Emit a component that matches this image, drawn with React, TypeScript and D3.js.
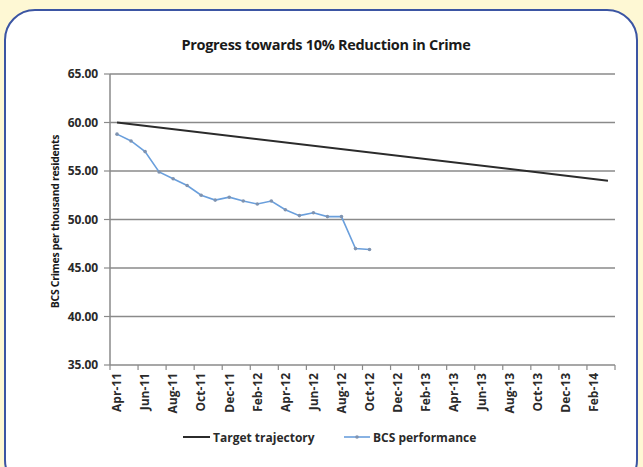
import React from 'react';
import * as d3 from 'd3';

const months = [
  'Apr-11', 'May-11', 'Jun-11', 'Jul-11', 'Aug-11', 'Sep-11', 'Oct-11', 'Nov-11', 'Dec-11',
  'Jan-12', 'Feb-12', 'Mar-12', 'Apr-12', 'May-12', 'Jun-12', 'Jul-12', 'Aug-12', 'Sep-12',
  'Oct-12', 'Nov-12', 'Dec-12', 'Jan-13', 'Feb-13', 'Mar-13', 'Apr-13', 'May-13', 'Jun-13',
  'Jul-13', 'Aug-13', 'Sep-13', 'Oct-13', 'Nov-13', 'Dec-13', 'Jan-14', 'Feb-14', 'Mar-14',
];

// BCS performance, Apr-11 .. Oct-12
const bcsValues = [58.8, 58.1, 57.0, 54.9, 54.2, 53.5, 52.5, 52.0, 52.3, 51.9, 51.6, 51.9, 51.0, 50.4, 50.7, 50.3, 50.3, 47.0, 46.9];

// target trajectory: straight line from start to end
const targetMonths = ['Apr-11', 'Mar-14'];
const targetValues = [60, 54];

const yTicks = [35, 40, 45, 50, 55, 60, 65];

const W = 643;
const H = 467;
const left = 110, right = 615, top = 74, bottom = 365;
const font = "'Open Sans', 'Liberation Sans', sans-serif";

export default function App() {
  const x = d3.scaleBand<string>().domain(months).range([left, right]).padding(0);
  const cx = (m: string) => (x(m) as number) + x.bandwidth() / 2;
  const y = d3.scaleLinear().domain([35, 65]).range([bottom, top]);

  const line = d3.line<[string, number]>().x(d => cx(d[0])).y(d => y(d[1]));
  const bcs: [string, number][] = bcsValues.map((v, i) => [months[i], v]);
  const target: [string, number][] = targetValues.map((v, i) => [targetMonths[i], v]);

  const labelMonths = months.filter((_, i) => i % 2 === 0);
  const tickIdx = d3.range(0, months.length + 1, 2);

  return (
    <svg width={W} height={H} style={{ position: 'absolute', left: 0, top: 0, display: 'block' }}>
      <rect x={0} y={0} width={W} height={H} fill="#fef8d4" />
      <rect x={5} y={10} width={632} height={480} rx={30} ry={30} fill="#ffffff" stroke="#3b55a3" strokeWidth={2} />

      <text x={326} y={50} textAnchor="middle" fontFamily={font} fontWeight={700} fontSize={14.5} fill="#1a1a1a" letterSpacing={-0.3}>
        Progress towards 10% Reduction in Crime
      </text>

      {yTicks.map(t => (
        <g key={t}>
          <line x1={left} x2={right} y1={y(t)} y2={y(t)} stroke="#8a8a8a" strokeWidth={1.5} />
          <line x1={left - 6} x2={left} y1={y(t)} y2={y(t)} stroke="#8a8a8a" strokeWidth={1.2} />
          <text x={98} y={y(t) + 4.2} textAnchor="end" fontFamily={font} fontWeight={700} fontSize={12} fill="#2a2a2a" letterSpacing={-0.1}>
            {t.toFixed(2)}
          </text>
        </g>
      ))}
      <line x1={left} x2={left} y1={top} y2={bottom} stroke="#8a8a8a" strokeWidth={1.5} />

      {tickIdx.map(i => {
        const tx = left + i * x.bandwidth();
        return <line key={i} x1={tx} x2={tx} y1={bottom} y2={bottom + 5} stroke="#8a8a8a" strokeWidth={1.2} />;
      })}
      {labelMonths.map(m => (
        <text key={m} transform={`translate(${cx(m) + 4.3},${bottom + 8}) rotate(-90)`} textAnchor="end"
          fontFamily={font} fontWeight={700} fontSize={12} fill="#2a2a2a">
          {m}
        </text>
      ))}

      <text transform={`translate(59,${(top + bottom) / 2 + 2}) rotate(-90)`} textAnchor="middle" fontFamily={font}
        fontWeight={700} fontSize={10.5} fill="#1a1a1a" letterSpacing={-0.3}>
        BCS Crimes per thousand residents
      </text>

      <path d={line(target) as string} fill="none" stroke="#2b2b2b" strokeWidth={2} />
      <path d={line(bcs) as string} fill="none" stroke="#6a9fdc" strokeWidth={1.6} />
      {bcs.map(d => (
        <circle key={d[0]} cx={cx(d[0])} cy={y(d[1])} r={1.8} fill="#7f93b0" />
      ))}

      <g fontFamily={font} fontWeight={700} fontSize={12} fill="#2a2a2a">
        <line x1={183} x2={210} y1={437} y2={437} stroke="#2b2b2b" strokeWidth={2} />
        <text x={213} y={441.5}>Target trajectory</text>
        <line x1={344} x2={370} y1={437} y2={437} stroke="#6a9fdc" strokeWidth={1.6} />
        <circle cx={357} cy={437} r={1.8} fill="#7f93b0" />
        <text x={373} y={441.5}>BCS performance</text>
      </g>
    </svg>
  );
}
